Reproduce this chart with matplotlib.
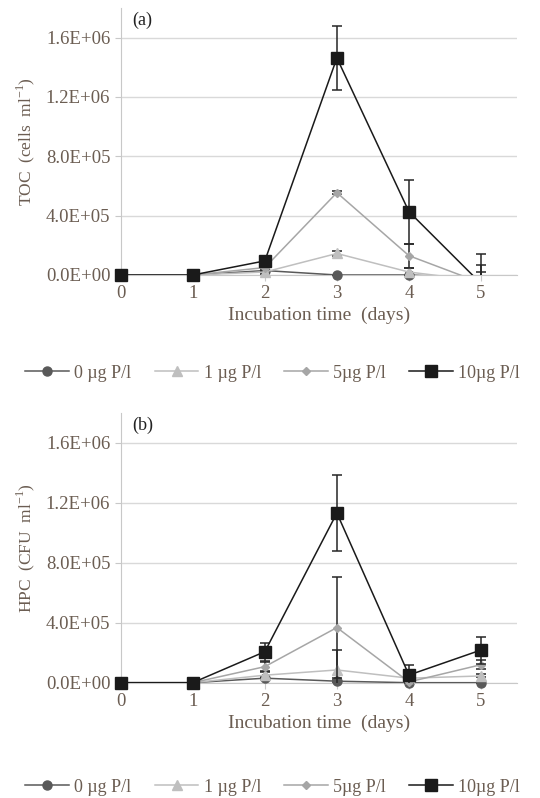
import matplotlib.pyplot as plt
from matplotlib.lines import Line2D

days = [0, 1, 2, 3, 4, 5]
labels = ["0 µg P/l", "1 µg P/l", "5µg P/l", "10µg P/l"]

# panel (a) TCC, cells/ml (day-5 values below zero are clipped by the axis, as in the original)
tcc_0 = [0, 0, 3.0e4, 0, 0, -2.0e4]
tcc_1 = [0, 0, 2.0e4, 1.45e5, 2.0e4, -4.0e4]
tcc_5 = [0, 0, 5.0e4, 5.55e5, 1.3e5, -5.3e4]
tcc_10 = [0, 0, 9.5e4, 1.463e6, 4.27e5, -5.8e4]
tcc_0_err = [0, 0, 0, 0, 0, 0]
tcc_1_err = [0, 0, 1.0e4, 2.0e4, 2.5e4, 6.0e4]
tcc_5_err = [0, 0, 1.0e4, 1.0e4, 8.0e4, 1.2e5]
tcc_10_err = [0, 0, 1.0e4, 2.15e5, 2.15e5, 2.0e5]

# panel (b) HPC, CFU/ml
hpc_0 = [0, 0, 3.0e4, 1.0e4, 0, 0]
hpc_1 = [0, 0, 5.0e4, 8.5e4, 3.0e4, 4.5e4]
hpc_5 = [0, 0, 1.07e5, 3.68e5, 5.0e3, 1.2e5]
hpc_10 = [0, 0, 2.07e5, 1.132e6, 5.1e4, 2.18e5]
hpc_0_err = [0, 0, 1.0e4, 5.0e3, 0, 0]
hpc_1_err = [0, 0, 2.0e4, 1.33e5, 1.0e4, 1.0e4]
hpc_5_err = [0, 0, 3.0e4, 3.35e5, 1.0e4, 3.0e4]
hpc_10_err = [0, 0, 6.0e4, 2.55e5, 7.0e4, 9.0e4]

yticks = [0, 4e5, 8e5, 1.2e6, 1.6e6]
ytick_labels = ["0.0E+00", "4.0E+05", "8.0E+05", "1.2E+06", "1.6E+06"]

colors = ["#595959", "#bfbfbf", "#a6a6a6", "#1a1a1a"]
markers = ["o", "^", "D", "s"]
msizes = [6.5, 7, 4.5, 9]
txt = "#6b5d52"

plt.rcParams["font.family"] = ["Liberation Serif", "DejaVu Serif"]
fig = plt.figure(figsize=(5.4, 7.98), dpi=100)


def panel(rect, series, errs, ylabel, tag):
    ax = fig.add_axes(rect)
    for i, (vals, err) in enumerate(zip(series, errs)):
        ax.errorbar(days, vals, yerr=err, fmt="none", ecolor="#262626",
                    elinewidth=1.1, capsize=3.5, capthick=1.1, zorder=3 + i)
        ax.plot(days, vals, color=colors[i], lw=1.1, zorder=3 + i)
        # markers drawn unclipped so the day-0 points sit whole on the axis;
        # points below zero are left out (hidden by the axis in the original)
        keep = [j for j, v in enumerate(vals) if v >= 0]
        ax.plot(days, vals, ls="none", marker=markers[i], ms=msizes[i],
                color=colors[i], markevery=keep, clip_on=False, zorder=3 + i)
    ax.set_xlim(0, 5.5)
    ax.set_ylim(0, 1.8e6)
    ax.set_xticks(days)
    ax.set_yticks(yticks)
    ax.set_yticklabels(ytick_labels)
    ax.grid(axis="y", color="#d9d9d9", lw=1)
    ax.set_axisbelow(True)
    for s in ["top", "right"]:
        ax.spines[s].set_visible(False)
    for s in ["left", "bottom"]:
        ax.spines[s].set_color("#c8c8c8")
    ax.tick_params(colors="#c8c8c8", labelcolor=txt, labelsize=13.5, length=4)
    ax.set_xlabel("Incubation time  (days)", color=txt, fontsize=14, labelpad=3)
    ax.set_ylabel(ylabel, color=txt, fontsize=12.5, labelpad=6)
    ax.text(0.03, 0.985, tag, transform=ax.transAxes, fontsize=13,
            color="#222222", va="top", ha="left")
    return ax


ax_a = panel([0.2235, 0.6554, 0.734, 0.3346], [tcc_0, tcc_1, tcc_5, tcc_10],
             [tcc_0_err, tcc_1_err, tcc_5_err, tcc_10_err],
             "TOC  (cells  ml$^{\\mathregular{-1}}$)", "(a)")
ax_b = panel([0.2235, 0.1445, 0.734, 0.338], [hpc_0, hpc_1, hpc_5, hpc_10],
             [hpc_0_err, hpc_1_err, hpc_5_err, hpc_10_err],
             "HPC  (CFU  ml$^{\\mathregular{-1}}$)", "(b)")

handles = [Line2D([], [], color=c, marker=m, ms=s, lw=1.1)
           for c, m, s in zip(colors, markers, msizes)]
for y in [373, 787]:
    fig.legend(handles, labels, loc="center", bbox_to_anchor=(0.505, 1 - y / 798),
               ncol=4, frameon=False, fontsize=13, labelcolor=txt,
               handlelength=2.4, handletextpad=0.3, columnspacing=1.3)

fig.savefig("out.png", dpi=100)
